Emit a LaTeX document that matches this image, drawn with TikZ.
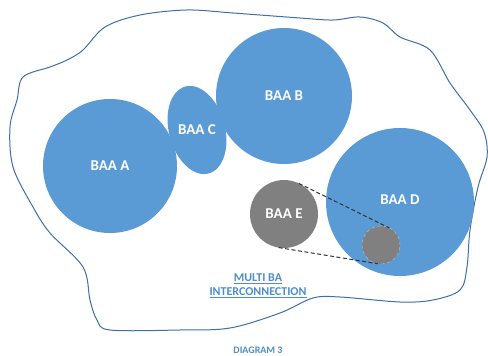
\documentclass[tikz,border=0pt]{standalone}
\usepackage{fontspec}
\setmainfont{Carlito}
\usetikzlibrary{shapes.geometric}
\definecolor{baablue}{HTML}{5B9BD5}
\definecolor{baagray}{HTML}{808080}
\definecolor{edgeblue}{HTML}{3E6FA8}
\definecolor{txtblue}{HTML}{4F8CCB}
\tikzset{
  baa/.style={circle, fill=baablue, inner sep=0pt, outer sep=0pt, text=white, font=\bfseries\fontsize{15}{15}\selectfont},
  baae/.style={baa, fill=baagray},
  lbl/.style={text=white, font=\bfseries\fontsize{15}{15}\selectfont},
  link/.style={dash pattern=on 4pt off 2.5pt, line width=1pt, black!80},
  note/.style={text=txtblue, font=\bfseries\fontsize{12}{13}\selectfont, align=center}
}
\begin{document}
\begin{tikzpicture}[x=1pt,y=-1pt]
\useasboundingbox (0,0) rectangle (488,356);
% the outer region
\draw[edgeblue, line width=1pt] plot[smooth cycle, tension=0.55] coordinates {
  (105,27) (140,15) (187,10) (233,13) (300,18) (333,20) (360,17) (383,23)
  (400,37) (430,50) (450,83) (470,110) (484,132) (487,157) (478,187)
  (470,230) (467,267) (460,290) (433,300) (400,302) (340,297) (313,298)
  (280,313) (230,328) (180,330) (110,330) (97,320) (90,300) (83,267)
  (50,233) (33,207) (13,167) (10,127) (17,100) (23,77) (50,67) (67,60) (83,50)};
% areas
\node[baa, minimum size=134pt] (a) at (110,166) {BAA A};
\node[baa, minimum size=136pt] (b) at (284,96) {BAA B};
\node[ellipse, fill=baablue, minimum width=56pt, minimum height=90pt, inner sep=0pt, rotate=15] (c) at (197,130) {};
\node[lbl] at (c) {BAA C};
\node[baa, minimum size=148pt] (d) at (400,202) {};
\node[lbl] at (400,200) {BAA D};
\node[baae, minimum size=68pt] (e) at (284,214) {BAA E};
\node[baae, minimum size=38pt, draw=black!30, dashed, line width=0.6pt] (e2) at (381,245) {};
% zoom lines
\draw[link] (e.64) -- (e2.64);
\draw[link] (e.-99) -- (e2.-99);
% captions
\node[note] (multi) at (258,286) {\underline{MULTI BA}\\[1pt]\underline{INTERCONNECTION}};
\node[note, font=\bfseries\fontsize{10}{11}\selectfont] (cap) at (258,350) {DIAGRAM 3};
\end{tikzpicture}
\end{document}
